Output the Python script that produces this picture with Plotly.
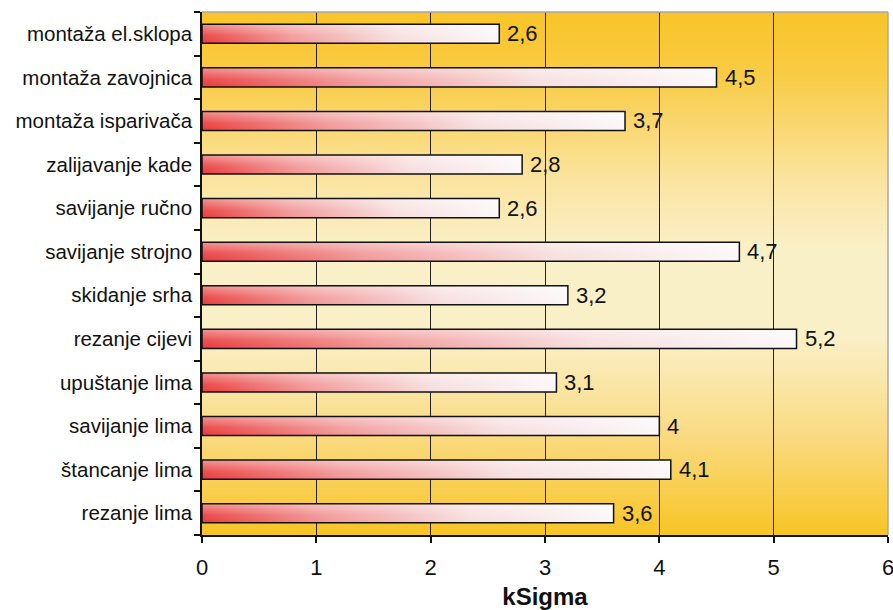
import base64, struct, zlib
import plotly.graph_objects as go

# ---- data (top to bottom as in the chart) ----
categories = [
    "montaža el.sklopa", "montaža zavojnica", "montaža isparivača", "zalijavanje kade",
    "savijanje ručno", "savijanje strojno", "skidanje srha", "rezanje cijevi",
    "upuštanje lima", "savijanje lima", "štancanje lima", "rezanje lima",
]
values = [2.6, 4.5, 3.7, 2.8, 2.6, 4.7, 3.2, 5.2, 3.1, 4.0, 4.1, 3.6]
x_ticks = [0, 1, 2, 3, 4, 5, 6]
x_title = "kSigma"


def fmt(v):
    s = ("%.1f" % v).rstrip("0").rstrip(".")
    return s.replace(".", ",")


# ---- background gradient image (vertical: orange - light yellow - orange) ----
def lerp(c1, c2, t):
    return tuple(int(round(a + (b - a) * t)) for a, b in zip(c1, c2))

stops = [(0.0, (248, 196, 40)), (0.12, (249, 204, 70)), (0.32, (250, 228, 160)),
         (0.45, (250, 240, 200)), (0.62, (250, 240, 200)), (0.80, (250, 220, 135)),
         (1.0, (248, 197, 38))]
H = 256
rows = b""
for r in range(H):
    t = r / (H - 1)
    for k in range(len(stops) - 1):
        if stops[k][0] <= t <= stops[k + 1][0]:
            tt = (t - stops[k][0]) / (stops[k + 1][0] - stops[k][0])
            c = lerp(stops[k][1], stops[k + 1][1], tt)
            break
    rows += b"\x00" + bytes(c) * 4

def chunk(tag, data):
    return struct.pack(">I", len(data)) + tag + data + struct.pack(">I", zlib.crc32(tag + data) & 0xFFFFFFFF)

png = b"\x89PNG\r\n\x1a\n" + chunk(b"IHDR", struct.pack(">IIBBBBB", 4, H, 8, 2, 0, 0, 0)) \
      + chunk(b"IDAT", zlib.compress(rows)) + chunk(b"IEND", b"")
bg_src = "data:image/png;base64," + base64.b64encode(png).decode()

fig = go.Figure()

half = 0.218
for i, v in enumerate(values):
    xs = [0, v, v, 0, 0]
    ys = [i - half, i - half, i + half, i + half, i - half]
    # horizontal red -> white gradient
    fig.add_trace(go.Scatter(
        x=xs, y=ys, mode="lines", fill="toself",
        fillgradient=dict(type="horizontal",
                          colorscale=[[0, "#EA3A3A"], [0.3, "#F29696"],
                                      [0.65, "#F7DEDE"], [1, "#FBF7F8"]]),
        line=dict(width=0), hoverinfo="skip", showlegend=False,
    ))
    # vertical light sheen (lighter at the top)
    fig.add_trace(go.Scatter(
        x=xs, y=ys, mode="lines", fill="toself",
        fillgradient=dict(type="vertical", start=i - half, stop=i + half,
                          colorscale=[[0, "rgba(255,255,255,0.45)"],
                                      [0.6, "rgba(255,255,255,0.1)"],
                                      [1, "rgba(255,255,255,0)"]]),
        line=dict(width=0), hoverinfo="skip", showlegend=False,
    ))
    # outline
    fig.add_trace(go.Scatter(
        x=xs, y=ys, mode="lines", line=dict(color="#111111", width=1.5),
        hoverinfo="skip", showlegend=False,
    ))
    fig.add_annotation(x=v, y=i, text=fmt(v), showarrow=False, xanchor="left",
                       xshift=6, yshift=0, font=dict(size=22, color="#111111"))

fig.add_layout_image(dict(source=bg_src, xref="paper", yref="paper", x=0, y=1,
                          sizex=1, sizey=1, sizing="stretch", xanchor="left",
                          yanchor="top", layer="below"))

# grey top/right border
fig.add_shape(type="line", xref="paper", yref="paper", x0=0, x1=1, y0=1, y1=1,
              line=dict(color="#A8A8A8", width=1.5), layer="above")
fig.add_shape(type="line", xref="paper", yref="paper", x0=1, x1=1, y0=0, y1=1,
              line=dict(color="#A8A8A8", width=1.5), layer="above")

fig.update_layout(
    width=893, height=610,
    margin=dict(l=202, r=5, t=12, b=75),
    paper_bgcolor="white",
    plot_bgcolor="rgba(0,0,0,0)",
    font=dict(family="Liberation Sans, Arial, sans-serif", color="#111111"),
    xaxis=dict(
        range=[0, 6], tickvals=x_ticks, ticktext=[str(t) for t in x_ticks],
        automargin=False,
        showgrid=True, gridcolor="#222222", gridwidth=1,
        zeroline=False, showline=True, linecolor="#111111", linewidth=1.5,
        ticks="outside", ticklen=6, tickwidth=1.5, tickcolor="#111111",
        tickfont=dict(size=22), ticklabelstandoff=6, ticklabeloverflow="allow",
        title=dict(text="<b>" + x_title + "</b>", font=dict(size=24), standoff=9),
    ),
    yaxis=dict(
        range=[len(categories) - 0.5, -0.5],
        tickvals=list(range(len(categories))), ticktext=categories,
        automargin=False,
        showgrid=False, zeroline=False, showline=True, linecolor="#111111", linewidth=1.5,
        ticks="", tickfont=dict(size=20.5), ticklabelstandoff=4,
        minor=dict(ticks="outside", tick0=0.5, dtick=1, ticklen=6, tickwidth=1.5,
                   tickcolor="#111111", showgrid=False),
    ),
)

fig.write_html(
    "out.html",
    config={"displayModeBar": False},
    post_script="document.body.style.margin='0';document.body.style.overflow='hidden';",
)
